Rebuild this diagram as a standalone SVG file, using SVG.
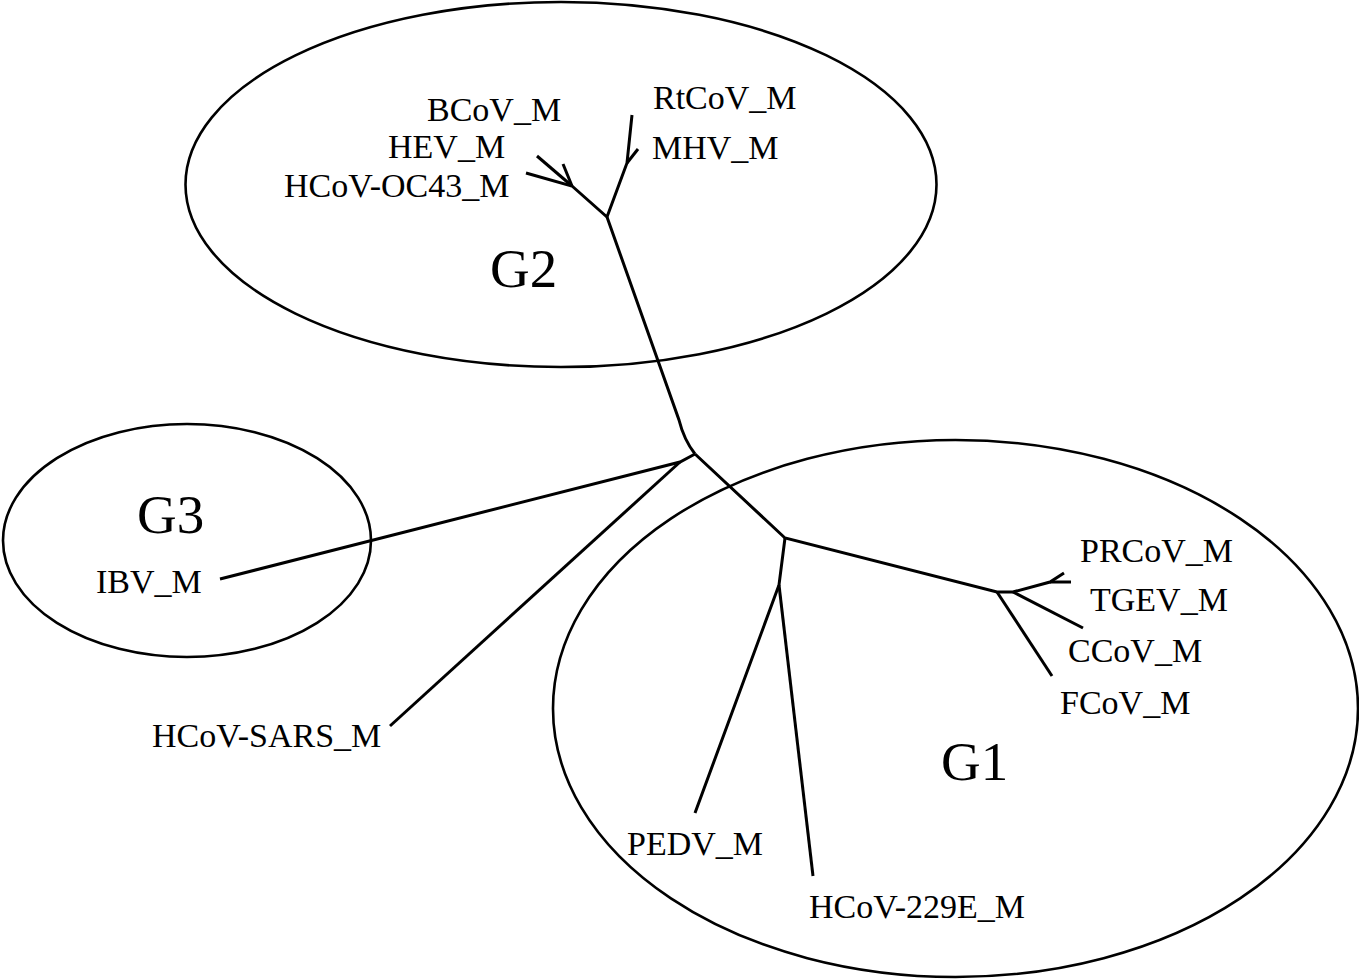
<svg xmlns="http://www.w3.org/2000/svg" width="1359" height="979" viewBox="0 0 1359 979">
<style>
.bg{fill:#fff}
.cl{fill:none;stroke:#000;stroke-width:2.6}
.br{fill:none;stroke:#000;stroke-width:3;stroke-linecap:butt;stroke-linejoin:miter}
.lb{font-family:"Liberation Serif","Times New Roman",serif;font-size:34px;fill:#000}
.gl{font-family:"Liberation Serif","Times New Roman",serif;font-size:55px;fill:#000}
</style>
<rect class="bg" x="0" y="0" width="1359" height="979"/>
<g id="G2">
<ellipse class="cl" cx="561" cy="184.5" rx="375.5" ry="182.5"/>
<text class="gl" x="490" y="287">G2</text>
</g>
<g id="G3">
<ellipse class="cl" cx="187" cy="540.5" rx="184" ry="116.5"/>
<text class="gl" x="137" y="533">G3</text>
</g>
<g id="G1">
<ellipse class="cl" cx="955.5" cy="708.5" rx="402.5" ry="268.5"/>
<text class="gl" x="941" y="780">G1</text>
</g>
<g id="connectors">
<path class="br" d="M607,217 L679,420 Q684,440 695,454"/>
<path class="br" d="M526,173 L572,186 L607,217 L627,163 L632,115"/>
<path class="br" d="M537,156 L572,186"/>
<path class="br" d="M563,164 L572,186"/>
<path class="br" d="M638,149 L627,163"/>
<path class="br" d="M695,454 L680,462 L220,579"/>
<path class="br" d="M680,462 L390,726"/>
<path class="br" d="M695,454 L785,538 L997,592 L1013,592 L1050,582 L1064,573"/>
<path class="br" d="M1050,582 L1071,582"/>
<path class="br" d="M1013,592 L1083,628"/>
<path class="br" d="M997,592 L1052,676"/>
<path class="br" d="M785,538 L779,585 L695,813"/>
<path class="br" d="M779,585 L813,876"/>
</g>
<g id="labels">
<text class="lb" x="427" y="121">BCoV_M</text>
<text class="lb" x="388" y="158">HEV_M</text>
<text class="lb" x="284" y="197">HCoV-OC43_M</text>
<text class="lb" x="653" y="109">RtCoV_M</text>
<text class="lb" x="652" y="159">MHV_M</text>
<text class="lb" x="96" y="593">IBV_M</text>
<text class="lb" x="152" y="747">HCoV-SARS_M</text>
<text class="lb" x="1080" y="562">PRCoV_M</text>
<text class="lb" x="1090" y="611">TGEV_M</text>
<text class="lb" x="1068" y="662">CCoV_M</text>
<text class="lb" x="1060" y="714">FCoV_M</text>
<text class="lb" x="627" y="855">PEDV_M</text>
<text class="lb" x="809" y="918">HCoV-229E_M</text>
</g>
</svg>
